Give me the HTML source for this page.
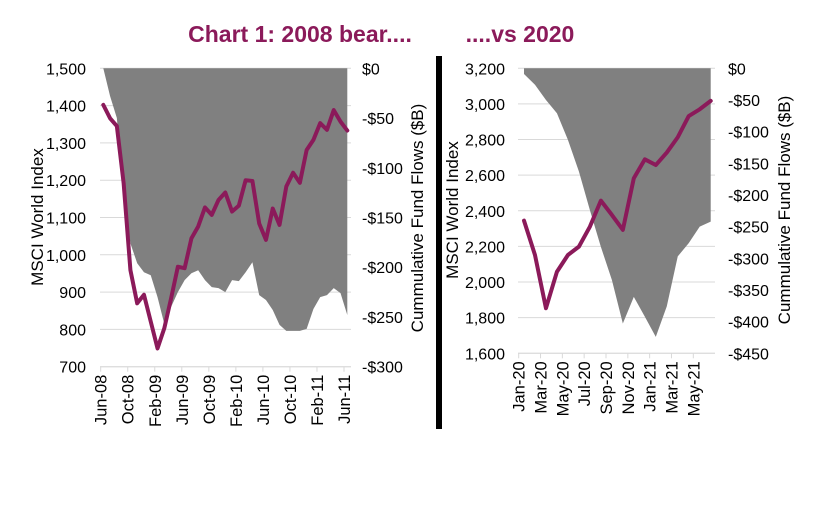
<!DOCTYPE html>
<html><head><meta charset="utf-8"><style>
body{margin:0;background:#fff;}
svg{display:block;font-family:"Liberation Sans",Arial,sans-serif;}
</style></head><body>
<svg id="c" width="824" height="520">
<text x="300" y="42" text-anchor="middle" font-size="23" font-weight="bold" fill="#8B1A5A">Chart 1: 2008 bear....</text>
<text x="520" y="42" text-anchor="middle" font-size="23" font-weight="bold" fill="#8B1A5A">....vs 2020</text>
<rect x="436" y="56" width="6" height="373" fill="#000"/>
</svg>
<script>
// Chart 1 (2008)
const c1Months=["Jun-08","Oct-08","Feb-09","Jun-09","Oct-09","Feb-10","Jun-10","Oct-10","Feb-11","Jun-11"];
const c1Index=[1402,1366,1345,1192,959,870,893,821,749,803,883,968,964,1044,1076,1127,1107,1147,1167,1116,1132,1200,1198,1084,1040,1124,1080,1183,1220,1193,1281,1308,1353,1335,1388,1357,1333];
const c1Flows=[0,-28,-50,-130,-176,-196,-205,-208,-230,-257,-240,-225,-213,-206,-203,-213,-220,-221,-225,-213,-214,-205,-195,-228,-233,-243,-258,-264,-264,-264,-262,-242,-230,-228,-221,-226,-248];
const c1LeftTicks=[700,800,900,1000,1100,1200,1300,1400,1500];
const c1RightTicks=[0,-50,-100,-150,-200,-250,-300];
// Chart 2 (2020)
const c2Months=["Jan-20","Mar-20","May-20","Jul-20","Sep-20","Nov-20","Jan-21","Mar-21","May-21"];
const c2Index=[2345,2152,1853,2058,2152,2199,2311,2457,2377,2293,2583,2689,2657,2727,2813,2932,2970,3017];
const c2Flows=[-9,-26,-50,-71,-113,-163,-224,-282,-334,-403,-361,-392,-424,-376,-297,-276,-250,-242];
const c2LeftTicks=[1600,1800,2000,2200,2400,2600,2800,3000,3200];
const c2RightTicks=[0,-50,-100,-150,-200,-250,-300,-350,-400,-450];

const svg=document.getElementById('c');
const NS="http://www.w3.org/2000/svg";
function mk(tag,attrs,parent){const e=document.createElementNS(NS,tag);for(const k in attrs)e.setAttribute(k,attrs[k]);(parent||svg).appendChild(e);return e;}
function fmt(v){return v.toLocaleString('en-US');}
function money(v){return v<0?'-$'+(-v):'$'+v;}

function draw(cfg){
  const {x0,x1,top,bot,lmin,lmax,rmin,rmax,idx,flows,ptX0,ptStep,tickX0,tickStep,months,lt,rt,lLabX,rLabX,lTitleX,rTitleX,titleY,gridR,pre}=cfg;
  const yL=v=>bot-(v-lmin)/(lmax-lmin)*(bot-top);
  const yR=v=>bot-(v-rmin)/(rmax-rmin)*(bot-top);
  const xP=i=>ptX0+i*ptStep;
  lt.forEach(v=>{const g=mk('line',{x1:x0,x2:gridR,y1:yL(v),y2:yL(v),stroke:'#d9d9d9','stroke-width':1});
    
    
    const t=mk('text',{x:lLabX,y:yL(v)+6,'text-anchor':'end','font-size':16,fill:'#000'});t.textContent=fmt(v);
    
    });
  rt.forEach(v=>{const t=mk('text',{x:rLabX,y:yR(v)+6,'font-size':16,fill:'#000'});t.textContent=money(v);
    
    });
  let d='M'+xP(0)+','+top;
  flows.forEach((v,i)=>{d+=' L'+xP(i)+','+yR(v);});
  d+=' L'+xP(flows.length-1)+','+top+' Z';
  const a=mk('path',{d:d,fill:'#808080'});
  
  
  const ax=mk('line',{x1:x0,x2:x1,y1:bot,y2:bot,stroke:'#d9d9d9','stroke-width':1});
  
  
  months.forEach((m,i)=>{const x=tickX0+i*tickStep;
    const tk=mk('line',{x1:x,x2:x,y1:bot,y2:bot+5,stroke:'#d9d9d9'});
    
    
    const t=mk('text',{x:0,y:0,'text-anchor':'end','font-size':16.5,fill:'#000',transform:`translate(${x+6},${bot+8}) rotate(-90)`});t.textContent=m;
    
    });
  const p=mk('polyline',{points:idx.map((v,i)=>xP(i)+','+yL(v)).join(' '),fill:'none',stroke:'#8B1A5A','stroke-width':4,'stroke-linejoin':'round','stroke-linecap':'round'});
  
  
  const t1=mk('text',{x:0,y:0,'text-anchor':'middle','font-size':17,fill:'#000',transform:`translate(${lTitleX},${titleY}) rotate(-90)`});t1.textContent='MSCI World Index';
  
  
  const t2=mk('text',{x:0,y:0,'text-anchor':'middle','font-size':17,fill:'#000',transform:`translate(${rTitleX},${cfg.rTitleY}) rotate(-90)`});t2.textContent='Cummulative Fund Flows ($B)';
  
  
}
draw({pre:'chart-2008',x0:100,x1:351,top:68.3,bot:366.7,lmin:700,lmax:1500,rmin:-300,rmax:0,idx:c1Index,flows:c1Flows,
  ptX0:103.3,ptStep:(347.3-103.3)/36,tickX0:100.7,tickStep:(344-100.7)/9,months:c1Months,lt:c1LeftTicks,rt:c1RightTicks,
  lLabX:86,rLabX:362,lTitleX:43,titleY:217,rTitleX:423,rTitleY:218,gridR:351});
draw({pre:'chart-2020',x0:518,x1:715,top:68.3,bot:353.3,lmin:1600,lmax:3200,rmin:-450,rmax:0,idx:c2Index,flows:c2Flows,
  ptX0:524,ptStep:(710.7-524)/17,tickX0:518.7,tickStep:(693.3-518.7)/8,months:c2Months,lt:c2LeftTicks,rt:c2RightTicks,
  lLabX:505,rLabX:728,lTitleX:458,titleY:210,rTitleX:790,rTitleY:210,gridR:715});
</script>
</body></html>
